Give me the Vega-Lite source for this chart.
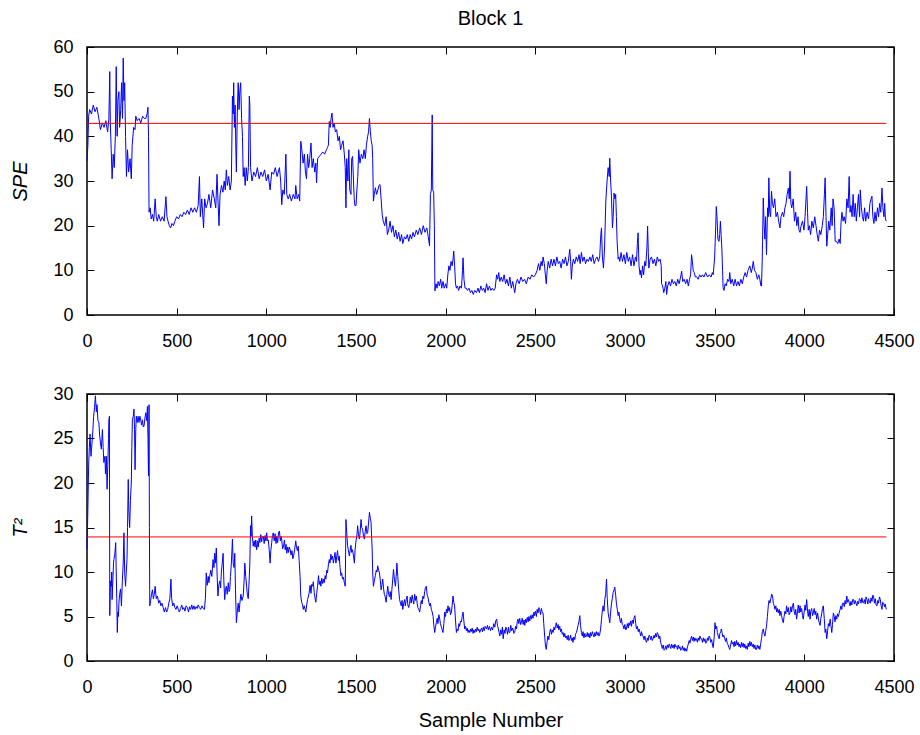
{
"$schema": "https://vega.github.io/schema/vega-lite/v6.json",
"padding": {"left": 10, "top": 8, "right": 2, "bottom": 2},
"background": "white",
"config": {
"view": {"stroke": "black", "strokeWidth": 1.5},
"font": "Liberation Sans",
"axis": {"grid": false, "domain": false, "tickSize": -7, "tickColor": "black", "tickWidth": 1, "labelFontSize": 18, "labelColor": "black", "titleFontSize": 20, "titleFontWeight": "normal", "titleColor": "black", "labelFont": "Liberation Sans", "titleFont": "Liberation Sans", "format": "d", "labelFlush": false, "minExtent": 0},
"axisLeft": {"labelPadding": 21, "titlePadding": 22},
"axisBottom": {"labelPadding": 24, "titlePadding": 14},
"title": {"fontSize": 20, "fontWeight": "normal", "font": "Liberation Sans", "color": "black", "frame": "group", "offset": 9}
},
"datasets": {
"thr1": [{"n": 0, "v": 42.9}, {"n": 4457, "v": 42.9}],
"thr2": [{"n": 0, "v": 13.94}, {"n": 4457, "v": 13.94}],
"spe": [
{"n":0,"v":34.5},{"n":5,"v":38},{"n":9,"v":44.5},{"n":15,"v":46},{"n":25,"v":45},{"n":35,"v":47},{"n":45,"v":45.5},{"n":55,"v":46.5},{"n":66,"v":44},{"n":75,"v":41.5},{"n":85,"v":43},{"n":95,"v":42},{"n":105,"v":43.5},{"n":115,"v":41},{"n":122,"v":44},{"n":127,"v":54.5},{"n":130,"v":43},{"n":135,"v":37},{"n":140,"v":30.5},{"n":146,"v":36},{"n":152,"v":33},{"n":158,"v":40},{"n":163,"v":55.6},{"n":168,"v":40},{"n":172,"v":48},{"n":178,"v":50},{"n":182,"v":42},{"n":188,"v":46},{"n":193,"v":52},{"n":198,"v":44},{"n":202,"v":57.5},{"n":206,"v":48},{"n":210,"v":52},{"n":215,"v":40},{"n":220,"v":31},{"n":226,"v":37},{"n":232,"v":32},{"n":240,"v":35},{"n":247,"v":30.5},{"n":252,"v":38},{"n":260,"v":42},{"n":268,"v":41.5},{"n":272,"v":44.5},{"n":280,"v":43.5},{"n":290,"v":44},{"n":300,"v":43},{"n":310,"v":44.5},{"n":320,"v":44},{"n":328,"v":44},{"n":335,"v":45},{"n":340,"v":46.5},{"n":343,"v":40},{"n":346,"v":23},{"n":352,"v":24},{"n":358,"v":21.5},{"n":365,"v":22.5},{"n":372,"v":21},{"n":380,"v":26},{"n":386,"v":22},{"n":392,"v":21},{"n":400,"v":22.5},{"n":410,"v":21},{"n":420,"v":22},{"n":430,"v":21},{"n":440,"v":26.5},{"n":446,"v":22},{"n":452,"v":21},{"n":459,"v":20},{"n":466,"v":19.5},{"n":474,"v":20.5},{"n":482,"v":20},{"n":490,"v":21},{"n":500,"v":22},{"n":510,"v":21.5},{"n":520,"v":22.5},{"n":530,"v":22},{"n":540,"v":23},{"n":550,"v":22.5},{"n":560,"v":23.5},{"n":570,"v":22.5},{"n":580,"v":24},{"n":590,"v":23},{"n":600,"v":24},{"n":610,"v":23},{"n":620,"v":24.5},{"n":627,"v":31},{"n":632,"v":22},{"n":640,"v":26},{"n":650,"v":19.5},{"n":656,"v":26},{"n":664,"v":24},{"n":672,"v":25},{"n":680,"v":27},{"n":690,"v":24},{"n":700,"v":28},{"n":710,"v":26},{"n":718,"v":24},{"n":725,"v":31.5},{"n":730,"v":26},{"n":736,"v":20},{"n":742,"v":27},{"n":750,"v":29},{"n":758,"v":27.5},{"n":765,"v":30},{"n":771,"v":28},{"n":777,"v":32.5},{"n":783,"v":29},{"n":790,"v":31},{"n":798,"v":28},{"n":805,"v":30},{"n":811,"v":49},{"n":815,"v":45},{"n":818,"v":52},{"n":822,"v":42},{"n":826,"v":47},{"n":830,"v":37},{"n":833,"v":32},{"n":838,"v":45},{"n":843,"v":52},{"n":848,"v":46},{"n":852,"v":50},{"n":857,"v":52},{"n":862,"v":44},{"n":867,"v":40},{"n":871,"v":31},{"n":876,"v":33},{"n":882,"v":29},{"n":888,"v":33},{"n":894,"v":30},{"n":900,"v":33},{"n":905,"v":49},{"n":908,"v":47},{"n":912,"v":33},{"n":920,"v":30},{"n":930,"v":32},{"n":940,"v":31},{"n":950,"v":33},{"n":960,"v":30.5},{"n":970,"v":32},{"n":980,"v":31},{"n":990,"v":32.5},{"n":1000,"v":30},{"n":1010,"v":31.5},{"n":1021,"v":28},{"n":1030,"v":32},{"n":1040,"v":31.5},{"n":1050,"v":33},{"n":1060,"v":31},{"n":1073,"v":33},{"n":1080,"v":30},{"n":1086,"v":24.7},{"n":1092,"v":28},{"n":1100,"v":27},{"n":1109,"v":36},{"n":1114,"v":27},{"n":1122,"v":26},{"n":1130,"v":27},{"n":1140,"v":25.5},{"n":1150,"v":27},{"n":1160,"v":26},{"n":1164,"v":29},{"n":1172,"v":26},{"n":1180,"v":27},{"n":1186,"v":25.5},{"n":1192,"v":38.9},{"n":1198,"v":37},{"n":1205,"v":34},{"n":1212,"v":36},{"n":1218,"v":32},{"n":1224,"v":30.5},{"n":1230,"v":36},{"n":1236,"v":33},{"n":1242,"v":35},{"n":1249,"v":38.5},{"n":1255,"v":33},{"n":1262,"v":35},{"n":1270,"v":32},{"n":1276,"v":34},{"n":1280,"v":29.6},{"n":1286,"v":35},{"n":1295,"v":35.5},{"n":1305,"v":36},{"n":1315,"v":36.5},{"n":1325,"v":36},{"n":1335,"v":37},{"n":1341,"v":37.5},{"n":1346,"v":38},{"n":1351,"v":43.3},{"n":1356,"v":42},{"n":1361,"v":44},{"n":1366,"v":45.2},{"n":1372,"v":42},{"n":1378,"v":43},{"n":1385,"v":41},{"n":1392,"v":41.5},{"n":1400,"v":39},{"n":1407,"v":40},{"n":1414,"v":37},{"n":1420,"v":38},{"n":1428,"v":39},{"n":1435,"v":36},{"n":1440,"v":33},{"n":1444,"v":24},{"n":1448,"v":35},{"n":1455,"v":30},{"n":1460,"v":37},{"n":1465,"v":28},{"n":1472,"v":27},{"n":1476,"v":35},{"n":1481,"v":35.5},{"n":1486,"v":30},{"n":1490,"v":26},{"n":1494,"v":24.5},{"n":1500,"v":24.5},{"n":1505,"v":28},{"n":1510,"v":31},{"n":1515,"v":37},{"n":1522,"v":34},{"n":1530,"v":36},{"n":1538,"v":35},{"n":1545,"v":37},{"n":1552,"v":35},{"n":1558,"v":38},{"n":1565,"v":40},{"n":1570,"v":41},{"n":1575,"v":44},{"n":1580,"v":41},{"n":1585,"v":39},{"n":1590,"v":38},{"n":1593,"v":35},{"n":1597,"v":25.5},{"n":1602,"v":27},{"n":1608,"v":28.5},{"n":1615,"v":27},{"n":1622,"v":28},{"n":1628,"v":29},{"n":1634,"v":29.2},{"n":1640,"v":26},{"n":1646,"v":22.5},{"n":1652,"v":21},{"n":1660,"v":20},{"n":1668,"v":22},{"n":1675,"v":18},{"n":1682,"v":19},{"n":1690,"v":21},{"n":1698,"v":18.5},{"n":1706,"v":20},{"n":1714,"v":17.5},{"n":1722,"v":19},{"n":1730,"v":17},{"n":1738,"v":18.5},{"n":1746,"v":16.5},{"n":1754,"v":18},{"n":1761,"v":16},{"n":1770,"v":17.5},{"n":1778,"v":17},{"n":1786,"v":18},{"n":1794,"v":16.5},{"n":1802,"v":18},{"n":1810,"v":17},{"n":1818,"v":18.5},{"n":1826,"v":17.5},{"n":1836,"v":19},{"n":1845,"v":18},{"n":1855,"v":19.5},{"n":1865,"v":18},{"n":1875,"v":20},{"n":1885,"v":18.5},{"n":1895,"v":19.5},{"n":1903,"v":17.5},{"n":1910,"v":15.5},{"n":1915,"v":27},{"n":1920,"v":28},{"n":1925,"v":44.8},{"n":1928,"v":28},{"n":1933,"v":27.5},{"n":1937,"v":20},{"n":1940,"v":5.4},{"n":1946,"v":7},{"n":1952,"v":6},{"n":1958,"v":7.5},{"n":1965,"v":6.5},{"n":1972,"v":8},{"n":1978,"v":6},{"n":1985,"v":7.5},{"n":1992,"v":6},{"n":2000,"v":7},{"n":2006,"v":6},{"n":2012,"v":9},{"n":2018,"v":11},{"n":2024,"v":10},{"n":2030,"v":12},{"n":2036,"v":11},{"n":2041,"v":12.5},{"n":2045,"v":14.3},{"n":2050,"v":11},{"n":2055,"v":7},{"n":2060,"v":6},{"n":2066,"v":6.5},{"n":2072,"v":5.5},{"n":2080,"v":6.5},{"n":2088,"v":6},{"n":2094,"v":10},{"n":2097,"v":12.8},{"n":2102,"v":8},{"n":2108,"v":6},{"n":2115,"v":6},{"n":2122,"v":5.5},{"n":2130,"v":6},{"n":2138,"v":5},{"n":2146,"v":5.5},{"n":2154,"v":4.6},{"n":2162,"v":5.5},{"n":2172,"v":5},{"n":2180,"v":6},{"n":2188,"v":5},{"n":2196,"v":6.5},{"n":2204,"v":5.5},{"n":2212,"v":6},{"n":2220,"v":5},{"n":2228,"v":7},{"n":2236,"v":5.5},{"n":2244,"v":6.5},{"n":2252,"v":5.5},{"n":2260,"v":6},{"n":2268,"v":5.5},{"n":2276,"v":6},{"n":2284,"v":9},{"n":2290,"v":8},{"n":2296,"v":9.5},{"n":2302,"v":7.5},{"n":2310,"v":8.5},{"n":2318,"v":7.5},{"n":2326,"v":9},{"n":2334,"v":7},{"n":2342,"v":8},{"n":2350,"v":6.5},{"n":2358,"v":8.5},{"n":2366,"v":6},{"n":2374,"v":7.5},{"n":2385,"v":5},{"n":2392,"v":7},{"n":2400,"v":8},{"n":2410,"v":7},{"n":2420,"v":8.5},{"n":2430,"v":7.5},{"n":2440,"v":8},{"n":2450,"v":7},{"n":2460,"v":8.5},{"n":2470,"v":8},{"n":2480,"v":9},{"n":2490,"v":8.5},{"n":2500,"v":9},{"n":2510,"v":10},{"n":2518,"v":11.5},{"n":2525,"v":10},{"n":2532,"v":12},{"n":2538,"v":11},{"n":2543,"v":13},{"n":2550,"v":11.5},{"n":2556,"v":9},{"n":2561,"v":7},{"n":2566,"v":10},{"n":2572,"v":12},{"n":2580,"v":10.5},{"n":2588,"v":12.5},{"n":2596,"v":11},{"n":2604,"v":12.5},{"n":2612,"v":11},{"n":2620,"v":13},{"n":2628,"v":11.5},{"n":2636,"v":12},{"n":2644,"v":10.5},{"n":2652,"v":12.5},{"n":2660,"v":11.5},{"n":2668,"v":13},{"n":2676,"v":11},{"n":2684,"v":12},{"n":2692,"v":14.7},{"n":2697,"v":12},{"n":2701,"v":8},{"n":2706,"v":11},{"n":2712,"v":12.5},{"n":2720,"v":11.5},{"n":2728,"v":13},{"n":2736,"v":12},{"n":2744,"v":13.5},{"n":2750,"v":11.5},{"n":2757,"v":14},{"n":2764,"v":12},{"n":2772,"v":13},{"n":2780,"v":11.5},{"n":2788,"v":12.5},{"n":2796,"v":12},{"n":2804,"v":13},{"n":2812,"v":12},{"n":2820,"v":13.5},{"n":2828,"v":11.5},{"n":2836,"v":12.5},{"n":2844,"v":13},{"n":2852,"v":12},{"n":2859,"v":13},{"n":2865,"v":18},{"n":2869,"v":19.5},{"n":2874,"v":13},{"n":2880,"v":10.5},{"n":2886,"v":15},{"n":2893,"v":25.5},{"n":2900,"v":30},{"n":2906,"v":33},{"n":2912,"v":31},{"n":2915,"v":35.1},{"n":2920,"v":30},{"n":2925,"v":26},{"n":2930,"v":19.5},{"n":2934,"v":22},{"n":2939,"v":27.3},{"n":2944,"v":26},{"n":2948,"v":27},{"n":2952,"v":22},{"n":2956,"v":16.5},{"n":2962,"v":12.5},{"n":2966,"v":13},{"n":2971,"v":12},{"n":2978,"v":14},{"n":2986,"v":12},{"n":2994,"v":13.5},{"n":3002,"v":11.5},{"n":3010,"v":14},{"n":3018,"v":12},{"n":3026,"v":13},{"n":3034,"v":11},{"n":3042,"v":13.5},{"n":3050,"v":11},{"n":3058,"v":13},{"n":3064,"v":12},{"n":3069,"v":16},{"n":3073,"v":18.4},{"n":3078,"v":11},{"n":3084,"v":9},{"n":3088,"v":10},{"n":3092,"v":8.3},{"n":3098,"v":11},{"n":3104,"v":9},{"n":3110,"v":12},{"n":3116,"v":11},{"n":3122,"v":15},{"n":3126,"v":19.9},{"n":3130,"v":14},{"n":3133,"v":10.5},{"n":3140,"v":12.5},{"n":3148,"v":13},{"n":3156,"v":11.5},{"n":3164,"v":12.5},{"n":3172,"v":11},{"n":3180,"v":13},{"n":3188,"v":12},{"n":3196,"v":12.5},{"n":3202,"v":11},{"n":3204,"v":7},{"n":3210,"v":6.5},{"n":3216,"v":5},{"n":3222,"v":6},{"n":3228,"v":7.5},{"n":3232,"v":4.6},{"n":3238,"v":6.5},{"n":3246,"v":7.5},{"n":3254,"v":6.5},{"n":3262,"v":8},{"n":3270,"v":7},{"n":3278,"v":7.5},{"n":3286,"v":6.5},{"n":3294,"v":8},{"n":3302,"v":7},{"n":3310,"v":8.5},{"n":3316,"v":9.8},{"n":3322,"v":7.5},{"n":3330,"v":8},{"n":3338,"v":7},{"n":3346,"v":8},{"n":3353,"v":6.5},{"n":3360,"v":8},{"n":3366,"v":9},{"n":3371,"v":13.5},{"n":3376,"v":12},{"n":3380,"v":10},{"n":3386,"v":9.5},{"n":3392,"v":8.5},{"n":3399,"v":8.6},{"n":3408,"v":8},{"n":3416,"v":9},{"n":3424,"v":8.5},{"n":3432,"v":9},{"n":3440,"v":8.5},{"n":3450,"v":9.5},{"n":3460,"v":8.5},{"n":3470,"v":9},{"n":3480,"v":8.5},{"n":3487,"v":9.5},{"n":3492,"v":9},{"n":3500,"v":13},{"n":3506,"v":20},{"n":3509,"v":24.3},{"n":3513,"v":22},{"n":3518,"v":17},{"n":3524,"v":16.5},{"n":3528,"v":18},{"n":3532,"v":21},{"n":3536,"v":18},{"n":3540,"v":15},{"n":3544,"v":10},{"n":3547,"v":6.1},{"n":3552,"v":5.5},{"n":3558,"v":7},{"n":3565,"v":6.5},{"n":3572,"v":8},{"n":3580,"v":7.5},{"n":3584,"v":9.5},{"n":3590,"v":7},{"n":3598,"v":8},{"n":3606,"v":6.5},{"n":3614,"v":8},{"n":3622,"v":6.5},{"n":3630,"v":7.5},{"n":3638,"v":6.5},{"n":3646,"v":8},{"n":3654,"v":7},{"n":3662,"v":8.5},{"n":3670,"v":9.5},{"n":3678,"v":8.5},{"n":3686,"v":10},{"n":3696,"v":11},{"n":3704,"v":9.5},{"n":3710,"v":10.5},{"n":3715,"v":12},{"n":3722,"v":10},{"n":3730,"v":9.5},{"n":3738,"v":8},{"n":3746,"v":9},{"n":3752,"v":8},{"n":3758,"v":6.5},{"n":3761,"v":6.5},{"n":3765,"v":12},{"n":3767,"v":16.5},{"n":3771,"v":26.2},{"n":3776,"v":20},{"n":3780,"v":17},{"n":3784,"v":22},{"n":3789,"v":13.5},{"n":3795,"v":24},{"n":3799,"v":22},{"n":3802,"v":30.7},{"n":3807,"v":23},{"n":3812,"v":22},{"n":3817,"v":27.7},{"n":3822,"v":25},{"n":3828,"v":24},{"n":3835,"v":26},{"n":3842,"v":22},{"n":3850,"v":23},{"n":3857,"v":21},{"n":3864,"v":19.5},{"n":3870,"v":22},{"n":3878,"v":23},{"n":3885,"v":22},{"n":3892,"v":24},{"n":3898,"v":25},{"n":3904,"v":27},{"n":3911,"v":28.4},{"n":3916,"v":26},{"n":3920,"v":32.2},{"n":3925,"v":25},{"n":3930,"v":24},{"n":3938,"v":26},{"n":3945,"v":21},{"n":3952,"v":23},{"n":3958,"v":20},{"n":3965,"v":22},{"n":3970,"v":19},{"n":3976,"v":18.5},{"n":3982,"v":20},{"n":3990,"v":21},{"n":3998,"v":19},{"n":4004,"v":22},{"n":4008,"v":25},{"n":4013,"v":28.8},{"n":4018,"v":23},{"n":4022,"v":19},{"n":4028,"v":20},{"n":4035,"v":18},{"n":4042,"v":21},{"n":4050,"v":19.5},{"n":4058,"v":22},{"n":4065,"v":20},{"n":4072,"v":18},{"n":4078,"v":16.5},{"n":4085,"v":19},{"n":4092,"v":18},{"n":4100,"v":20},{"n":4106,"v":22},{"n":4112,"v":27},{"n":4116,"v":30.7},{"n":4121,"v":22},{"n":4125,"v":15.4},{"n":4130,"v":18},{"n":4136,"v":21},{"n":4142,"v":19},{"n":4150,"v":24},{"n":4155,"v":20},{"n":4160,"v":26},{"n":4166,"v":24},{"n":4172,"v":16.5},{"n":4178,"v":16.5},{"n":4186,"v":16},{"n":4194,"v":17},{"n":4200,"v":16},{"n":4205,"v":21},{"n":4210,"v":23},{"n":4216,"v":21},{"n":4222,"v":22},{"n":4230,"v":20.5},{"n":4237,"v":26},{"n":4244,"v":24},{"n":4250,"v":31},{"n":4255,"v":23},{"n":4260,"v":24.5},{"n":4266,"v":22},{"n":4272,"v":27},{"n":4278,"v":22},{"n":4284,"v":25},{"n":4290,"v":21},{"n":4296,"v":24},{"n":4302,"v":27},{"n":4308,"v":22},{"n":4312,"v":28},{"n":4318,"v":24},{"n":4324,"v":22},{"n":4330,"v":21},{"n":4336,"v":24},{"n":4342,"v":21},{"n":4350,"v":23},{"n":4358,"v":21.5},{"n":4366,"v":25},{"n":4372,"v":26},{"n":4377,"v":26.6},{"n":4382,"v":22},{"n":4388,"v":20.5},{"n":4394,"v":23},{"n":4400,"v":21},{"n":4408,"v":24},{"n":4414,"v":22},{"n":4420,"v":25},{"n":4426,"v":23},{"n":4433,"v":28.4},{"n":4438,"v":24},{"n":4444,"v":22},{"n":4448,"v":25},{"n":4452,"v":21.5},{"n":4457,"v":21}
],
"t2": [
{"n":0,"v":12.6},{"n":4,"v":16},{"n":9,"v":21.9},{"n":13,"v":24},{"n":17,"v":25.5},{"n":22,"v":23},{"n":28,"v":24.5},{"n":33,"v":26},{"n":37,"v":27.5},{"n":42,"v":28.5},{"n":47,"v":29.8},{"n":52,"v":28},{"n":56,"v":28.8},{"n":61,"v":27},{"n":66,"v":26.8},{"n":70,"v":25.5},{"n":75,"v":24.5},{"n":80,"v":23.8},{"n":86,"v":26},{"n":90,"v":24},{"n":94,"v":22.3},{"n":100,"v":23},{"n":103,"v":21},{"n":108,"v":23},{"n":112,"v":19.3},{"n":116,"v":22},{"n":120,"v":25},{"n":122,"v":27.1},{"n":125,"v":27.5},{"n":127,"v":5.1},{"n":131,"v":9},{"n":135,"v":8.4},{"n":138,"v":10},{"n":140,"v":6.9},{"n":144,"v":9},{"n":148,"v":11},{"n":150,"v":11.4},{"n":155,"v":12},{"n":160,"v":13.3},{"n":163,"v":10},{"n":166,"v":7},{"n":169,"v":3.2},{"n":172,"v":5.5},{"n":175,"v":5},{"n":178,"v":6.5},{"n":182,"v":7.5},{"n":187,"v":8.1},{"n":192,"v":6.2},{"n":197,"v":9},{"n":202,"v":11},{"n":206,"v":14.4},{"n":210,"v":10},{"n":215,"v":8.4},{"n":219,"v":10},{"n":223,"v":11.4},{"n":226,"v":15},{"n":230,"v":20.4},{"n":232,"v":18},{"n":235,"v":16},{"n":238,"v":15},{"n":242,"v":18},{"n":247,"v":20},{"n":250,"v":24},{"n":253,"v":27.1},{"n":258,"v":27.5},{"n":262,"v":28.3},{"n":265,"v":26},{"n":268,"v":21.5},{"n":272,"v":26},{"n":275,"v":27.5},{"n":280,"v":26.8},{"n":285,"v":27.5},{"n":290,"v":26.8},{"n":295,"v":27.5},{"n":300,"v":27},{"n":305,"v":26.5},{"n":309,"v":27.1},{"n":314,"v":26.3},{"n":318,"v":26.4},{"n":323,"v":27.3},{"n":328,"v":27.9},{"n":333,"v":27},{"n":337,"v":28.6},{"n":340,"v":25},{"n":343,"v":20.8},{"n":346,"v":28.8},{"n":348,"v":15},{"n":350,"v":6.2},{"n":355,"v":6.8},{"n":360,"v":7.5},{"n":365,"v":8},{"n":370,"v":7},{"n":375,"v":7.5},{"n":380,"v":8.4},{"n":386,"v":7},{"n":393,"v":7.3},{"n":400,"v":6.5},{"n":406,"v":6.8},{"n":412,"v":6.2},{"n":418,"v":6.5},{"n":425,"v":6},{"n":431,"v":5.5},{"n":438,"v":6},{"n":444,"v":5.5},{"n":450,"v":5.8},{"n":456,"v":6.5},{"n":462,"v":7},{"n":468,"v":9.2},{"n":472,"v":7},{"n":478,"v":6.2},{"n":484,"v":6.5},{"n":490,"v":6},{"n":496,"v":5.8},{"n":503,"v":6.2},{"n":509,"v":5.8},{"n":515,"v":5.5},{"n":522,"v":5.9},{"n":528,"v":6.3},{"n":534,"v":5.8},{"n":540,"v":6},{"n":546,"v":5.6},{"n":553,"v":6.2},{"n":560,"v":6},{"n":566,"v":5.5},{"n":572,"v":6.1},{"n":578,"v":5.8},{"n":584,"v":6.3},{"n":590,"v":5.8},{"n":596,"v":6.2},{"n":602,"v":5.8},{"n":608,"v":6.1},{"n":614,"v":5.9},{"n":620,"v":6.3},{"n":627,"v":6},{"n":634,"v":5.8},{"n":641,"v":6.2},{"n":648,"v":5.9},{"n":655,"v":5.8},{"n":660,"v":7},{"n":665,"v":9.9},{"n":670,"v":8.5},{"n":676,"v":9.5},{"n":680,"v":8.8},{"n":684,"v":9.5},{"n":690,"v":10.2},{"n":696,"v":9.5},{"n":703,"v":11.4},{"n":708,"v":10.5},{"n":712,"v":12.1},{"n":716,"v":11},{"n":721,"v":12.7},{"n":725,"v":10},{"n":730,"v":7.3},{"n":735,"v":8.5},{"n":740,"v":9},{"n":745,"v":8.2},{"n":749,"v":9.9},{"n":754,"v":11},{"n":759,"v":12.1},{"n":763,"v":9},{"n":768,"v":6.9},{"n":772,"v":8},{"n":777,"v":8.4},{"n":782,"v":7.5},{"n":788,"v":8.8},{"n":792,"v":7.8},{"n":796,"v":8},{"n":800,"v":9.5},{"n":805,"v":11},{"n":811,"v":13.7},{"n":815,"v":11},{"n":820,"v":10.5},{"n":824,"v":12.1},{"n":828,"v":8},{"n":833,"v":4.3},{"n":838,"v":5.5},{"n":843,"v":6.5},{"n":848,"v":5.5},{"n":852,"v":6.4},{"n":858,"v":7.5},{"n":864,"v":6.8},{"n":871,"v":7.3},{"n":876,"v":9},{"n":880,"v":11},{"n":885,"v":9.5},{"n":890,"v":8.4},{"n":894,"v":7.5},{"n":899,"v":7},{"n":904,"v":9},{"n":908,"v":11},{"n":912,"v":15.2},{"n":915,"v":14},{"n":918,"v":16.3},{"n":922,"v":14},{"n":927,"v":12.9},{"n":932,"v":13.5},{"n":937,"v":12.8},{"n":941,"v":13.6},{"n":946,"v":12.5},{"n":951,"v":13.5},{"n":955,"v":12.8},{"n":960,"v":13.8},{"n":964,"v":13.3},{"n":969,"v":14.2},{"n":974,"v":13.4},{"n":978,"v":14},{"n":983,"v":14},{"n":988,"v":13.2},{"n":993,"v":14.1},{"n":998,"v":13.5},{"n":1002,"v":14.4},{"n":1006,"v":13.5},{"n":1011,"v":13.6},{"n":1016,"v":12.5},{"n":1021,"v":11},{"n":1025,"v":12.4},{"n":1030,"v":13.3},{"n":1034,"v":14.1},{"n":1039,"v":14.4},{"n":1044,"v":13.5},{"n":1049,"v":14.3},{"n":1054,"v":13.2},{"n":1058,"v":14},{"n":1063,"v":13.3},{"n":1068,"v":14.4},{"n":1073,"v":14.6},{"n":1078,"v":13.5},{"n":1082,"v":14},{"n":1086,"v":13.6},{"n":1091,"v":12.6},{"n":1096,"v":12.9},{"n":1101,"v":13.6},{"n":1105,"v":12.5},{"n":1110,"v":13.1},{"n":1114,"v":12.1},{"n":1119,"v":12.8},{"n":1124,"v":12.2},{"n":1128,"v":12.8},{"n":1133,"v":12.5},{"n":1138,"v":11.9},{"n":1143,"v":12.4},{"n":1148,"v":11.5},{"n":1152,"v":11.8},{"n":1158,"v":12.5},{"n":1164,"v":13.5},{"n":1168,"v":12.8},{"n":1173,"v":12.4},{"n":1178,"v":12.9},{"n":1183,"v":11.3},{"n":1188,"v":9.5},{"n":1192,"v":7.3},{"n":1197,"v":6.6},{"n":1202,"v":6.3},{"n":1206,"v":5.8},{"n":1211,"v":6.2},{"n":1216,"v":5.8},{"n":1220,"v":5.5},{"n":1225,"v":6.3},{"n":1230,"v":6.9},{"n":1235,"v":7.3},{"n":1239,"v":7.7},{"n":1244,"v":8.5},{"n":1249,"v":7.6},{"n":1253,"v":8.6},{"n":1258,"v":8.4},{"n":1262,"v":8.9},{"n":1267,"v":7.7},{"n":1272,"v":7},{"n":1276,"v":6.6},{"n":1281,"v":7.6},{"n":1286,"v":8.5},{"n":1291,"v":9.6},{"n":1295,"v":8.6},{"n":1300,"v":9},{"n":1304,"v":8.4},{"n":1309,"v":9.3},{"n":1314,"v":8.7},{"n":1318,"v":9.2},{"n":1323,"v":8.8},{"n":1328,"v":9.6},{"n":1332,"v":9.2},{"n":1337,"v":10.2},{"n":1341,"v":9.9},{"n":1346,"v":10.8},{"n":1351,"v":11.4},{"n":1355,"v":11},{"n":1360,"v":12},{"n":1364,"v":11.4},{"n":1369,"v":11.8},{"n":1374,"v":11},{"n":1378,"v":11.5},{"n":1383,"v":12.2},{"n":1388,"v":11},{"n":1393,"v":11.8},{"n":1397,"v":12.4},{"n":1402,"v":11.3},{"n":1407,"v":11.8},{"n":1411,"v":10.5},{"n":1416,"v":9.6},{"n":1420,"v":9.9},{"n":1425,"v":9.2},{"n":1430,"v":9.4},{"n":1435,"v":8.8},{"n":1440,"v":8.4},{"n":1442,"v":12},{"n":1444,"v":15.9},{"n":1448,"v":14.5},{"n":1453,"v":13},{"n":1457,"v":12.5},{"n":1463,"v":11.8},{"n":1467,"v":12.4},{"n":1472,"v":13},{"n":1476,"v":12.2},{"n":1481,"v":12.5},{"n":1486,"v":11.8},{"n":1491,"v":11},{"n":1495,"v":12.5},{"n":1500,"v":13.5},{"n":1505,"v":14},{"n":1509,"v":15.2},{"n":1514,"v":14.2},{"n":1519,"v":13.7},{"n":1523,"v":14.5},{"n":1528,"v":15.9},{"n":1532,"v":15},{"n":1537,"v":14.8},{"n":1542,"v":14},{"n":1547,"v":13.7},{"n":1551,"v":14.5},{"n":1556,"v":15.2},{"n":1561,"v":14.3},{"n":1565,"v":14.4},{"n":1570,"v":15.5},{"n":1575,"v":16.7},{"n":1580,"v":16},{"n":1584,"v":15.6},{"n":1587,"v":14},{"n":1590,"v":12.6},{"n":1593,"v":10},{"n":1597,"v":8.4},{"n":1602,"v":9},{"n":1608,"v":9.6},{"n":1613,"v":10.2},{"n":1617,"v":10},{"n":1621,"v":10.7},{"n":1626,"v":10.2},{"n":1631,"v":9.9},{"n":1636,"v":9},{"n":1640,"v":8},{"n":1645,"v":8.6},{"n":1649,"v":9.2},{"n":1654,"v":8.1},{"n":1658,"v":7.5},{"n":1663,"v":7.2},{"n":1668,"v":6.6},{"n":1672,"v":7.5},{"n":1677,"v":8.4},{"n":1682,"v":7.5},{"n":1687,"v":7.2},{"n":1691,"v":7.8},{"n":1696,"v":6.9},{"n":1700,"v":8},{"n":1705,"v":9.2},{"n":1709,"v":10.3},{"n":1714,"v":9.2},{"n":1720,"v":8.4},{"n":1724,"v":9.5},{"n":1728,"v":11},{"n":1733,"v":9.5},{"n":1738,"v":8},{"n":1743,"v":6.9},{"n":1748,"v":6.5},{"n":1752,"v":6.2},{"n":1757,"v":6.8},{"n":1761,"v":5.8},{"n":1766,"v":6.5},{"n":1771,"v":6.9},{"n":1775,"v":6.2},{"n":1780,"v":6.9},{"n":1785,"v":7.3},{"n":1789,"v":6.3},{"n":1794,"v":6},{"n":1799,"v":6.5},{"n":1803,"v":7.2},{"n":1808,"v":6.5},{"n":1813,"v":7.4},{"n":1817,"v":6.9},{"n":1822,"v":6.4},{"n":1827,"v":7.5},{"n":1831,"v":6.8},{"n":1836,"v":7.3},{"n":1841,"v":6.5},{"n":1845,"v":6},{"n":1850,"v":5.8},{"n":1855,"v":5.5},{"n":1860,"v":6.2},{"n":1864,"v":6.8},{"n":1869,"v":6.4},{"n":1873,"v":7.3},{"n":1878,"v":7},{"n":1883,"v":7.8},{"n":1887,"v":8.2},{"n":1892,"v":8.4},{"n":1897,"v":7.4},{"n":1901,"v":7.2},{"n":1906,"v":6.6},{"n":1911,"v":6.2},{"n":1915,"v":6.5},{"n":1920,"v":5.8},{"n":1925,"v":5.5},{"n":1930,"v":5},{"n":1934,"v":4},{"n":1939,"v":3.2},{"n":1943,"v":3.8},{"n":1948,"v":4.3},{"n":1953,"v":4.8},{"n":1957,"v":4.2},{"n":1962,"v":5.2},{"n":1967,"v":4.7},{"n":1971,"v":4.2},{"n":1976,"v":3.8},{"n":1981,"v":3.5},{"n":1985,"v":3.2},{"n":1990,"v":4.2},{"n":1995,"v":5.5},{"n":1999,"v":5},{"n":2004,"v":5.8},{"n":2008,"v":5.4},{"n":2013,"v":6.2},{"n":2018,"v":5.6},{"n":2022,"v":6},{"n":2027,"v":5.2},{"n":2032,"v":5.5},{"n":2036,"v":6.2},{"n":2041,"v":7.3},{"n":2045,"v":6.6},{"n":2050,"v":6.2},{"n":2055,"v":4.5},{"n":2060,"v":3.2},{"n":2064,"v":3.6},{"n":2069,"v":3.4},{"n":2074,"v":4.2},{"n":2078,"v":3.9},{"n":2083,"v":4.5},{"n":2088,"v":4.4},{"n":2092,"v":5},{"n":2097,"v":5.5},{"n":2101,"v":4.6},{"n":2106,"v":3.6},{"n":2111,"v":3.9},{"n":2115,"v":3.4},{"n":2120,"v":3.7},{"n":2125,"v":3.2},{"n":2129,"v":3.5},{"n":2134,"v":3.2},{"n":2139,"v":3.6},{"n":2143,"v":3.3},{"n":2148,"v":3.7},{"n":2153,"v":3.1},{"n":2157,"v":3.5},{"n":2162,"v":3.2},{"n":2167,"v":3.6},{"n":2171,"v":3.3},{"n":2176,"v":3.8},{"n":2181,"v":3.4},{"n":2185,"v":3.6},{"n":2190,"v":3.2},{"n":2195,"v":3.5},{"n":2200,"v":3.7},{"n":2205,"v":3.3},{"n":2210,"v":3.8},{"n":2215,"v":3.4},{"n":2220,"v":3.9},{"n":2228,"v":3.6},{"n":2233,"v":4},{"n":2238,"v":3.5},{"n":2244,"v":3.9},{"n":2250,"v":3.4},{"n":2256,"v":3.8},{"n":2262,"v":3.5},{"n":2268,"v":4.2},{"n":2274,"v":3.8},{"n":2279,"v":4.5},{"n":2284,"v":4.7},{"n":2289,"v":4},{"n":2294,"v":3.6},{"n":2298,"v":3.2},{"n":2302,"v":2.8},{"n":2307,"v":3.5},{"n":2312,"v":3},{"n":2316,"v":3.8},{"n":2321,"v":2.5},{"n":2326,"v":3.5},{"n":2331,"v":3.1},{"n":2335,"v":3.8},{"n":2340,"v":3.6},{"n":2345,"v":3},{"n":2350,"v":3.8},{"n":2354,"v":3.2},{"n":2358,"v":3.2},{"n":2363,"v":4},{"n":2368,"v":3.4},{"n":2374,"v":3.7},{"n":2380,"v":3.1},{"n":2385,"v":3.2},{"n":2390,"v":3.9},{"n":2395,"v":3.6},{"n":2399,"v":4.4},{"n":2403,"v":4.7},{"n":2408,"v":4.2},{"n":2413,"v":4.8},{"n":2418,"v":4.1},{"n":2422,"v":4.3},{"n":2427,"v":4.8},{"n":2432,"v":4.1},{"n":2437,"v":4.6},{"n":2441,"v":4},{"n":2446,"v":4.7},{"n":2450,"v":4.3},{"n":2455,"v":4.9},{"n":2460,"v":4.4},{"n":2464,"v":5},{"n":2469,"v":4.5},{"n":2473,"v":5.1},{"n":2478,"v":4.7},{"n":2482,"v":5.2},{"n":2487,"v":4.8},{"n":2492,"v":5.5},{"n":2496,"v":5.1},{"n":2501,"v":5.6},{"n":2506,"v":5},{"n":2510,"v":5.8},{"n":2515,"v":5.4},{"n":2520,"v":6},{"n":2524,"v":5.8},{"n":2529,"v":5.2},{"n":2534,"v":5.9},{"n":2538,"v":5.5},{"n":2543,"v":5.4},{"n":2547,"v":4.2},{"n":2552,"v":2.8},{"n":2556,"v":1.8},{"n":2561,"v":1.3},{"n":2566,"v":2.2},{"n":2570,"v":2.8},{"n":2575,"v":2.4},{"n":2580,"v":3.2},{"n":2585,"v":3.6},{"n":2590,"v":3},{"n":2594,"v":3.5},{"n":2599,"v":3.2},{"n":2604,"v":3.8},{"n":2608,"v":3.5},{"n":2613,"v":4},{"n":2617,"v":4.3},{"n":2622,"v":3.7},{"n":2627,"v":4.1},{"n":2631,"v":3.5},{"n":2636,"v":3.9},{"n":2641,"v":3.3},{"n":2645,"v":3.6},{"n":2650,"v":3},{"n":2655,"v":3.2},{"n":2659,"v":2.7},{"n":2664,"v":3.1},{"n":2669,"v":2.6},{"n":2673,"v":2.8},{"n":2678,"v":2.4},{"n":2683,"v":2.9},{"n":2687,"v":2.3},{"n":2692,"v":2.5},{"n":2697,"v":2.9},{"n":2701,"v":2.3},{"n":2706,"v":2.6},{"n":2710,"v":2.1},{"n":2715,"v":2.7},{"n":2720,"v":2.4},{"n":2724,"v":3},{"n":2729,"v":3.2},{"n":2734,"v":3.6},{"n":2738,"v":4},{"n":2743,"v":4.4},{"n":2748,"v":5.1},{"n":2752,"v":4},{"n":2757,"v":3.2},{"n":2762,"v":2.8},{"n":2766,"v":3.3},{"n":2771,"v":2.6},{"n":2776,"v":3.1},{"n":2780,"v":2.7},{"n":2785,"v":2.8},{"n":2790,"v":3.2},{"n":2794,"v":2.7},{"n":2799,"v":3.1},{"n":2804,"v":2.6},{"n":2808,"v":3.2},{"n":2813,"v":2.8},{"n":2818,"v":3.3},{"n":2822,"v":3},{"n":2827,"v":2.7},{"n":2832,"v":3.2},{"n":2836,"v":2.8},{"n":2841,"v":3.3},{"n":2846,"v":2.9},{"n":2850,"v":3.2},{"n":2855,"v":2.8},{"n":2859,"v":3},{"n":2864,"v":3.6},{"n":2869,"v":4.7},{"n":2873,"v":5.5},{"n":2878,"v":6.2},{"n":2883,"v":5.6},{"n":2887,"v":6.9},{"n":2892,"v":7.5},{"n":2897,"v":9.2},{"n":2901,"v":7},{"n":2906,"v":5.4},{"n":2911,"v":4.8},{"n":2915,"v":4.3},{"n":2920,"v":5.5},{"n":2925,"v":6.5},{"n":2929,"v":7},{"n":2934,"v":7.7},{"n":2939,"v":8},{"n":2943,"v":8.3},{"n":2948,"v":7.4},{"n":2952,"v":6.5},{"n":2957,"v":5.8},{"n":2962,"v":5.1},{"n":2966,"v":5.5},{"n":2971,"v":4.7},{"n":2976,"v":4.3},{"n":2980,"v":4.8},{"n":2985,"v":4.1},{"n":2990,"v":4},{"n":2994,"v":3.6},{"n":2999,"v":4.1},{"n":3004,"v":3.5},{"n":3008,"v":3.6},{"n":3013,"v":4.2},{"n":3018,"v":3.7},{"n":3022,"v":4.3},{"n":3027,"v":4},{"n":3032,"v":4.5},{"n":3036,"v":3.9},{"n":3041,"v":4.6},{"n":3046,"v":4.2},{"n":3050,"v":4.8},{"n":3055,"v":5.1},{"n":3060,"v":4.2},{"n":3064,"v":3.6},{"n":3069,"v":3.9},{"n":3074,"v":3.3},{"n":3078,"v":3.6},{"n":3083,"v":3.2},{"n":3088,"v":2.8},{"n":3092,"v":3.3},{"n":3097,"v":2.9},{"n":3101,"v":2.8},{"n":3106,"v":2.4},{"n":3111,"v":2.8},{"n":3115,"v":2.3},{"n":3120,"v":2.1},{"n":3125,"v":2.6},{"n":3129,"v":2.3},{"n":3134,"v":2.9},{"n":3139,"v":2.8},{"n":3143,"v":2.4},{"n":3148,"v":2.8},{"n":3152,"v":2.3},{"n":3157,"v":2.5},{"n":3162,"v":2.9},{"n":3166,"v":2.6},{"n":3171,"v":3.1},{"n":3176,"v":2.7},{"n":3180,"v":3.2},{"n":3185,"v":3},{"n":3190,"v":2.5},{"n":3194,"v":2.8},{"n":3199,"v":2.1},{"n":3204,"v":1.7},{"n":3208,"v":1.4},{"n":3213,"v":1.8},{"n":3218,"v":1.2},{"n":3222,"v":1.3},{"n":3227,"v":1.7},{"n":3232,"v":1.3},{"n":3236,"v":1.8},{"n":3241,"v":1.5},{"n":3246,"v":1.9},{"n":3250,"v":1.7},{"n":3255,"v":1.4},{"n":3260,"v":1.9},{"n":3264,"v":1.5},{"n":3269,"v":1.8},{"n":3274,"v":1.4},{"n":3278,"v":1.9},{"n":3283,"v":1.6},{"n":3288,"v":1.7},{"n":3292,"v":1.3},{"n":3297,"v":1.8},{"n":3302,"v":1.4},{"n":3306,"v":1.6},{"n":3311,"v":1.2},{"n":3316,"v":1.3},{"n":3320,"v":1.7},{"n":3325,"v":1.2},{"n":3330,"v":1.5},{"n":3334,"v":1.1},{"n":3339,"v":1.4},{"n":3344,"v":1.1},{"n":3348,"v":1.6},{"n":3353,"v":1.9},{"n":3358,"v":2.3},{"n":3362,"v":2},{"n":3367,"v":2.5},{"n":3371,"v":2.8},{"n":3376,"v":2.3},{"n":3381,"v":2.7},{"n":3385,"v":2.2},{"n":3390,"v":2.6},{"n":3395,"v":2.3},{"n":3399,"v":2.5},{"n":3404,"v":2.1},{"n":3409,"v":2.6},{"n":3413,"v":2.3},{"n":3418,"v":2.8},{"n":3423,"v":2.5},{"n":3427,"v":2.5},{"n":3432,"v":2.1},{"n":3437,"v":2.6},{"n":3441,"v":2.2},{"n":3446,"v":2.5},{"n":3450,"v":2},{"n":3455,"v":2.1},{"n":3460,"v":2.6},{"n":3464,"v":2.3},{"n":3469,"v":2.8},{"n":3474,"v":2.6},{"n":3478,"v":2.1},{"n":3483,"v":2.4},{"n":3488,"v":1.8},{"n":3492,"v":1.5},{"n":3497,"v":2.6},{"n":3502,"v":4.3},{"n":3506,"v":3.6},{"n":3511,"v":3.9},{"n":3515,"v":3.2},{"n":3520,"v":2.8},{"n":3525,"v":2.5},{"n":3529,"v":3.1},{"n":3534,"v":3.3},{"n":3537,"v":3.6},{"n":3542,"v":3.1},{"n":3546,"v":2.7},{"n":3551,"v":2.9},{"n":3556,"v":2.5},{"n":3561,"v":2.2},{"n":3565,"v":2.6},{"n":3570,"v":2},{"n":3575,"v":1.8},{"n":3580,"v":1.5},{"n":3584,"v":1.3},{"n":3589,"v":1.8},{"n":3594,"v":2.3},{"n":3598,"v":1.9},{"n":3603,"v":2.1},{"n":3608,"v":1.6},{"n":3612,"v":2.2},{"n":3617,"v":1.7},{"n":3622,"v":2.3},{"n":3626,"v":1.8},{"n":3631,"v":2.1},{"n":3636,"v":1.6},{"n":3640,"v":1.9},{"n":3645,"v":1.5},{"n":3650,"v":2.1},{"n":3654,"v":1.6},{"n":3659,"v":2},{"n":3664,"v":1.5},{"n":3668,"v":1.9},{"n":3673,"v":1.4},{"n":3677,"v":1.7},{"n":3682,"v":1.3},{"n":3687,"v":2},{"n":3691,"v":1.6},{"n":3696,"v":2.2},{"n":3701,"v":1.7},{"n":3705,"v":2.1},{"n":3710,"v":1.6},{"n":3715,"v":1.9},{"n":3719,"v":1.4},{"n":3724,"v":1.8},{"n":3729,"v":1.3},{"n":3733,"v":1.3},{"n":3738,"v":1.8},{"n":3743,"v":1.4},{"n":3747,"v":1.7},{"n":3752,"v":1.3},{"n":3757,"v":2},{"n":3761,"v":2.5},{"n":3766,"v":3.3},{"n":3771,"v":3.6},{"n":3775,"v":3.1},{"n":3780,"v":2.8},{"n":3785,"v":3.4},{"n":3789,"v":3.9},{"n":3794,"v":5},{"n":3799,"v":6.2},{"n":3803,"v":6.8},{"n":3808,"v":6.5},{"n":3813,"v":7},{"n":3818,"v":7.5},{"n":3823,"v":7.3},{"n":3827,"v":6.5},{"n":3832,"v":6.2},{"n":3836,"v":5.8},{"n":3841,"v":6.2},{"n":3846,"v":5.5},{"n":3850,"v":5.9},{"n":3855,"v":5.4},{"n":3860,"v":5.8},{"n":3864,"v":5.1},{"n":3869,"v":5.6},{"n":3873,"v":5.1},{"n":3878,"v":4.6},{"n":3883,"v":4.3},{"n":3887,"v":5},{"n":3892,"v":5.6},{"n":3897,"v":5.3},{"n":3901,"v":6.2},{"n":3906,"v":5.5},{"n":3911,"v":6},{"n":3915,"v":5.2},{"n":3920,"v":5.4},{"n":3925,"v":6.1},{"n":3929,"v":5.5},{"n":3934,"v":6.2},{"n":3939,"v":6.5},{"n":3943,"v":5.6},{"n":3948,"v":5.2},{"n":3952,"v":5.8},{"n":3957,"v":4.7},{"n":3962,"v":5.5},{"n":3966,"v":6.3},{"n":3971,"v":5.4},{"n":3976,"v":6.2},{"n":3980,"v":5.5},{"n":3985,"v":5.9},{"n":3990,"v":5.1},{"n":3994,"v":4.7},{"n":3999,"v":5.5},{"n":4004,"v":6.3},{"n":4008,"v":5.7},{"n":4013,"v":6.9},{"n":4018,"v":5.6},{"n":4022,"v":5},{"n":4027,"v":5.8},{"n":4032,"v":4.7},{"n":4036,"v":5.6},{"n":4041,"v":5.9},{"n":4046,"v":5.1},{"n":4050,"v":5.4},{"n":4055,"v":5.9},{"n":4060,"v":5.2},{"n":4064,"v":5.6},{"n":4069,"v":4.7},{"n":4074,"v":5.4},{"n":4078,"v":4.8},{"n":4083,"v":4.3},{"n":4088,"v":4},{"n":4092,"v":4.8},{"n":4097,"v":5.3},{"n":4101,"v":5.9},{"n":4106,"v":6.2},{"n":4111,"v":4.8},{"n":4116,"v":3.2},{"n":4120,"v":3.6},{"n":4125,"v":2.5},{"n":4130,"v":3.4},{"n":4134,"v":4.2},{"n":4139,"v":3.9},{"n":4144,"v":4.7},{"n":4148,"v":4},{"n":4153,"v":3.2},{"n":4157,"v":4.1},{"n":4162,"v":5.4},{"n":4167,"v":5},{"n":4171,"v":4.4},{"n":4176,"v":5.1},{"n":4181,"v":4.7},{"n":4185,"v":5.3},{"n":4190,"v":5},{"n":4195,"v":5.5},{"n":4200,"v":5.8},{"n":4204,"v":6.2},{"n":4209,"v":5.8},{"n":4213,"v":6.5},{"n":4218,"v":6.5},{"n":4223,"v":6.1},{"n":4227,"v":6.8},{"n":4232,"v":6.4},{"n":4237,"v":7.3},{"n":4241,"v":6.6},{"n":4246,"v":6.9},{"n":4251,"v":6.5},{"n":4255,"v":6.2},{"n":4260,"v":6.7},{"n":4265,"v":6.3},{"n":4269,"v":6.9},{"n":4274,"v":6.9},{"n":4279,"v":6.4},{"n":4283,"v":6.8},{"n":4288,"v":6.5},{"n":4293,"v":6.2},{"n":4297,"v":6.7},{"n":4302,"v":6.4},{"n":4307,"v":7},{"n":4312,"v":6.9},{"n":4316,"v":6.5},{"n":4321,"v":7.1},{"n":4326,"v":6.6},{"n":4330,"v":6.5},{"n":4335,"v":6.9},{"n":4340,"v":6.4},{"n":4344,"v":7.2},{"n":4349,"v":6.9},{"n":4354,"v":6.4},{"n":4358,"v":7},{"n":4363,"v":6.6},{"n":4368,"v":6.5},{"n":4372,"v":7.1},{"n":4377,"v":6.7},{"n":4382,"v":7.4},{"n":4386,"v":7.3},{"n":4391,"v":6.5},{"n":4396,"v":7},{"n":4400,"v":6.3},{"n":4405,"v":6.2},{"n":4410,"v":6.8},{"n":4414,"v":6.5},{"n":4419,"v":7.2},{"n":4424,"v":6.9},{"n":4428,"v":6.2},{"n":4433,"v":5.8},{"n":4437,"v":6.6},{"n":4442,"v":6.5},{"n":4447,"v":6.1},{"n":4451,"v":6.4},{"n":4457,"v":5.8}
]
},
"spacing": 33,
"vconcat": [
{
"title": "Block 1",
"width": 807,
"height": 268,
"resolve": {"axis": {"x": "independent", "y": "independent"}},
"layer": [
{"data": {"name": "spe"}, "mark": {"type": "line", "color": "#0000ff", "strokeWidth": 1},
"encoding": {
"x": {"field": "n", "type": "quantitative", "scale": {"domain": [0, 4500], "nice": false}, "axis": {"orient": "bottom", "values": [0,500,1000,1500,2000,2500,3000,3500,4000,4500], "title": null}},
"y": {"field": "v", "type": "quantitative", "scale": {"domain": [0, 60], "nice": false}, "axis": {"orient": "left", "values": [0,10,20,30,40,50,60], "title": "SPE", "titleFontStyle": "italic"}}}},
{"data": {"name": "thr1"}, "mark": {"type": "line", "color": "#ff0000", "strokeWidth": 1},
"encoding": {
"x": {"field": "n", "type": "quantitative", "axis": {"orient": "top", "labels": false, "title": null, "values": [0,500,1000,1500,2000,2500,3000,3500,4000,4500]}},
"y": {"field": "v", "type": "quantitative", "axis": {"orient": "right", "labels": false, "title": null, "values": [0,10,20,30,40,50,60]}}}}
]
},
{
"width": 807,
"height": 267,
"resolve": {"axis": {"x": "independent", "y": "independent"}},
"layer": [
{"data": {"name": "t2"}, "mark": {"type": "line", "color": "#0000ff", "strokeWidth": 1},
"encoding": {
"x": {"field": "n", "type": "quantitative", "scale": {"domain": [0, 4500], "nice": false}, "axis": {"orient": "bottom", "values": [0,500,1000,1500,2000,2500,3000,3500,4000,4500], "title": "Sample Number"}},
"y": {"field": "v", "type": "quantitative", "scale": {"domain": [0, 30], "nice": false}, "axis": {"orient": "left", "values": [0,5,10,15,20,25,30], "title": "T²", "titleFontStyle": "italic"}}}},
{"data": {"name": "thr2"}, "mark": {"type": "line", "color": "#ff0000", "strokeWidth": 1},
"encoding": {
"x": {"field": "n", "type": "quantitative", "axis": {"orient": "top", "labels": false, "title": null, "values": [0,500,1000,1500,2000,2500,3000,3500,4000,4500]}},
"y": {"field": "v", "type": "quantitative", "axis": {"orient": "right", "labels": false, "title": null, "values": [0,5,10,15,20,25,30]}}}}
]
}
]
}
